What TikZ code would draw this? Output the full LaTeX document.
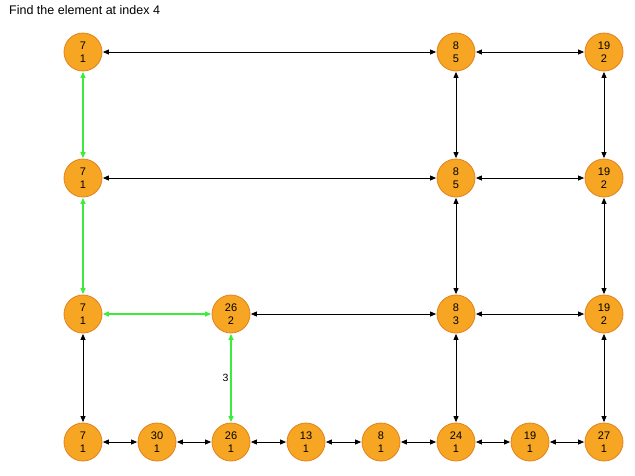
\documentclass[tikz,border=0pt]{standalone}
\usepackage{fontspec}
\setmainfont{Liberation Sans}
\usetikzlibrary{arrows.meta}
\definecolor{nodefill}{RGB}{246,166,35}
\definecolor{nodeedge}{RGB}{228,128,30}
\definecolor{pathgreen}{RGB}{60,235,60}
\tikzset{
  elem/.style={circle, fill=nodefill, draw=nodeedge, line width=0.8pt, minimum size=38pt, inner sep=0pt, align=center, font=\fontsize{11}{13}\selectfont},
  link/.style={{Triangle[length=6pt,width=5pt]}-{Triangle[length=6pt,width=5pt]}, line width=0.8pt, black, shorten <=0.5pt, shorten >=0.5pt},
  glink/.style={link, draw=pathgreen, fill=pathgreen, line width=1.2pt},
}
\begin{document}
\begin{tikzpicture}[x=1pt,y=-1pt]
\useasboundingbox (0,0) rectangle (635,475);
\node[anchor=west, inner sep=0pt, font=\fontsize{12.5}{14}\selectfont] (title) at (9,10) {Find the element at index 4};
% row 1
\node[elem] (a1) at (83,52) {7\\1};
\node[elem] (b1) at (456,52) {8\\5};
\node[elem] (c1) at (604,52) {19\\2};
% row 2
\node[elem] (a2) at (83,178) {7\\1};
\node[elem] (b2) at (456,178) {8\\5};
\node[elem] (c2) at (604,178) {19\\2};
% row 3
\node[elem] (a3) at (83,314) {7\\1};
\node[elem] (d3) at (231,314) {26\\2};
\node[elem] (b3) at (456,314) {8\\3};
\node[elem] (c3) at (604,314) {19\\2};
% row 4
\node[elem] (a4) at (83,442) {7\\1};
\node[elem] (e4) at (157,442) {30\\1};
\node[elem] (d4) at (231,442) {26\\1};
\node[elem] (f4) at (306,442) {13\\1};
\node[elem] (g4) at (381,442) {8\\1};
\node[elem] (b4) at (456,442) {24\\1};
\node[elem] (h4) at (530,442) {19\\1};
\node[elem] (c4) at (604,442) {27\\1};
% horizontal links
\draw[link] (a1) -- (b1);
\draw[link] (b1) -- (c1);
\draw[link] (a2) -- (b2);
\draw[link] (b2) -- (c2);
\draw[glink] (a3) -- (d3);
\draw[link] (d3) -- (b3);
\draw[link] (b3) -- (c3);
\draw[link] (a4) -- (e4);
\draw[link] (e4) -- (d4);
\draw[link] (d4) -- (f4);
\draw[link] (f4) -- (g4);
\draw[link] (g4) -- (b4);
\draw[link] (b4) -- (h4);
\draw[link] (h4) -- (c4);
% vertical links
\draw[glink] (a1) -- (a2);
\draw[link] (b1) -- (b2);
\draw[link] (c1) -- (c2);
\draw[glink] (a2) -- (a3);
\draw[link] (b2) -- (b3);
\draw[link] (c2) -- (c3);
\draw[link] (a3) -- (a4);
\draw[glink] (d3) -- node[left, black, font=\fontsize{10.5}{11}\selectfont, inner sep=2pt] (lbl) {3} (d4);
\draw[link] (b3) -- (b4);
\draw[link] (c3) -- (c4);
\end{tikzpicture}
\end{document}
